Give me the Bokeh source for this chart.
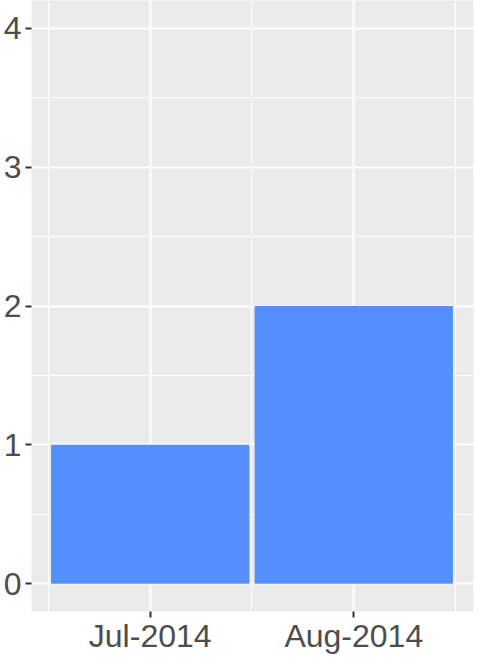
from bokeh.plotting import figure
from bokeh.models import FixedTicker, Range1d
from bokeh.embed import file_html
from bokeh.resources import INLINE

months = ["Jul-2014", "Aug-2014"]
counts = [1, 2]
x_pos = [1, 2]
y_ticks = [0, 1, 2, 3, 4]

p = figure(width=476, height=656, output_backend="svg", toolbar_location=None,
           x_range=Range1d(0.417, 2.588), y_range=Range1d(-0.2, 4.2),
           min_border_left=29, min_border_right=3, min_border_top=0, min_border_bottom=41)
p.outline_line_color = None
p.background_fill_color = "#EBEBEB"
p.border_fill_color = "white"

p.vbar(x=x_pos, top=counts, bottom=0, width=0.974, fill_color="#5390FE", line_color=None)

p.xaxis.ticker = FixedTicker(ticks=x_pos)
p.xaxis.major_label_overrides = {x: m for x, m in zip(x_pos, months)}
p.yaxis.ticker = FixedTicker(ticks=y_ticks)

p.xgrid.ticker = FixedTicker(ticks=x_pos, minor_ticks=[0.5, 1.5, 2.5])
p.ygrid.ticker = FixedTicker(ticks=y_ticks, minor_ticks=[0.5, 1.5, 2.5, 3.5])
for g in (p.xgrid, p.ygrid):
    g.grid_line_color = "white"
    g.grid_line_width = 2
    g.minor_grid_line_color = "white"
    g.minor_grid_line_width = 1
    g.level = "underlay"

for ax in (p.xaxis, p.yaxis):
    ax.axis_line_color = None
    ax.major_tick_out = 6
    ax.major_tick_in = 0
    ax.major_tick_line_color = "#333333"
    ax.major_tick_line_width = 2
    ax.minor_tick_line_color = None
    ax.major_label_text_font = "Liberation Sans"
    ax.major_label_text_font_size = "32px"
    ax.major_label_text_color = "#4D4D4D"
    ax.major_label_text_line_height = 0.9
p.yaxis.major_label_standoff = 4
p.xaxis.major_label_standoff = 0

open("out.html", "w").write(file_html(p, INLINE))
